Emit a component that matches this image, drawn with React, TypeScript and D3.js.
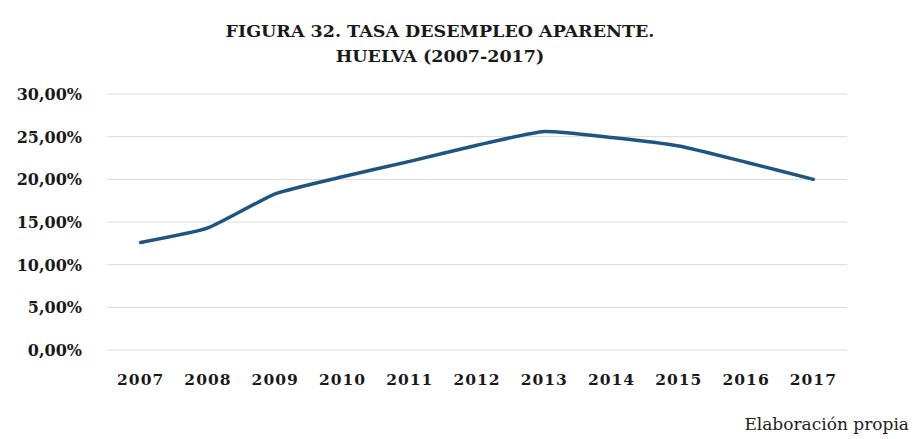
import React, { useRef, useEffect } from "react";
import * as d3 from "d3";

const years = ["2007", "2008", "2009", "2010", "2011", "2012", "2013", "2014", "2015", "2016", "2017"];
const rates = [12.6, 14.3, 18.3, 20.3, 22.1, 24.0, 25.6, 24.9, 23.9, 22.0, 20.0];
const yTicks = [0, 5, 10, 15, 20, 25, 30];

const App = () => {
  const svgRef = useRef<SVGSVGElement | null>(null);

  useEffect(() => {
    const svg = d3.select(svgRef.current);
    svg.selectAll("*").remove();

    const width = 912;
    const height = 439;
    const margin = { top: 94, right: 65, bottom: 89, left: 107 };

    const x = d3
      .scaleBand()
      .domain(years)
      .range([margin.left, width - margin.right])
      .padding(0);

    const y = d3
      .scaleLinear()
      .domain([0, 30])
      .range([height - margin.bottom, margin.top]);

    const font = "'DejaVu Serif', serif";

    // title
    const title = svg
      .append("text")
      .attr("text-anchor", "middle")
      .attr("font-family", font)
      .attr("font-weight", "bold")
      .attr("font-size", 17.5)
      .attr("fill", "#1a1a1a");
    title.append("tspan").attr("x", 440).attr("y", 37).text("FIGURA 32. TASA DESEMPLEO APARENTE.");
    title.append("tspan").attr("x", 440).attr("y", 62).text("HUELVA (2007-2017)");

    // grid lines
    const grid = svg.append("g");
    yTicks.forEach((t) => {
      grid
        .append("line")
        .attr("x1", margin.left)
        .attr("x2", width - margin.right)
        .attr("y1", y(t))
        .attr("y2", y(t))
        .attr("stroke", "#d9d9d9")
        .attr("stroke-width", 1);
    });

    // y axis labels
    const yAxis = svg
      .append("g")
      .attr("transform", `translate(${margin.left - 22},0)`)
      .call(
        d3
          .axisLeft(y)
          .tickValues(yTicks)
          .tickSize(0)
          .tickFormat((d) => `${(d as number).toFixed(2).replace(".", ",")}%`)
      );
    yAxis.select(".domain").remove();
    yAxis
      .selectAll("text")
      .attr("font-family", font)
      .attr("font-weight", "bold")
      .attr("font-size", 16)
      .attr("fill", "#1a1a1a")
      .attr("dy", "0.35em");

    // x axis labels
    const xAxis = svg
      .append("g")
      .attr("transform", `translate(0,${height - margin.bottom + 21})`)
      .call(d3.axisBottom(x).tickSize(0));
    xAxis.select(".domain").remove();
    xAxis
      .selectAll("text")
      .attr("font-family", font)
      .attr("font-weight", "bold")
      .attr("font-size", 15.5)
      .attr("letter-spacing", 1)
      .attr("fill", "#1a1a1a");

    // line
    const line = d3
      .line<number>()
      .x((_, i) => (x(years[i]) as number) + x.bandwidth() / 2)
      .y((d) => y(d))
      .curve(d3.curveCardinal.tension(0.5));

    svg
      .append("path")
      .datum(rates)
      .attr("d", line)
      .attr("fill", "none")
      .attr("stroke", "#1f5581")
      .attr("stroke-width", 3.5)
      .attr("stroke-linecap", "round")
      .attr("stroke-linejoin", "round");

    // source note
    svg
      .append("text")
      .attr("x", 909)
      .attr("y", 430)
      .attr("text-anchor", "end")
      .attr("font-family", font)
      .attr("font-size", 17)
      .attr("fill", "#222")
      .text("Elaboración propia");
  }, []);

  return (
    <svg
      ref={svgRef}
      width={912}
      height={439}
      style={{ position: "absolute", left: 0, top: 0, background: "#fff" }}
    ></svg>
  );
};

export default App;
